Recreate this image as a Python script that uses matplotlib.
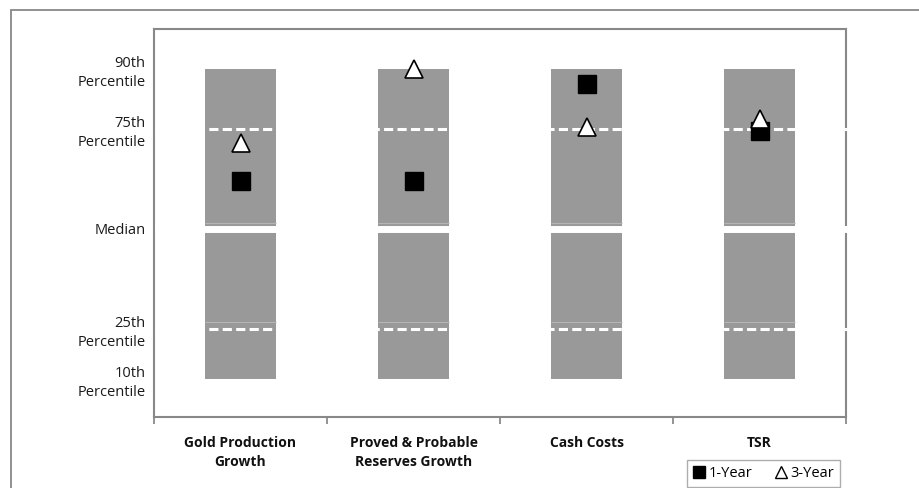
import matplotlib
matplotlib.use("Agg")
import matplotlib.pyplot as plt
from matplotlib.lines import Line2D
from matplotlib.patches import Rectangle

plt.rcParams['font.family'] = ['Open Sans', 'DejaVu Sans']

categories = ["Gold Production\nGrowth", "Proved & Probable\nReserves Growth", "Cash Costs", "TSR"]
one_year = [61.9, 62.1, 86.25, 74.5]
three_year = [71.4, 90.1, 75.4, 77.4]
tick_values = [12.5, 25, 50, 75, 90]
tick_labels = ["10th\nPercentile", "25th\nPercentile", "Median", "75th\nPercentile", "90th\nPercentile"]
band_low, band_high = 12.5, 90

fig = plt.figure(figsize=(9.19, 4.88), dpi=100)
ax = fig.add_axes([154/919, 71/488, 692/919, 388/488])

n = len(categories)
xs = [i + 0.5 for i in range(n)]
ax.bar(xs, [band_high - band_low]*n, bottom=band_low, width=0.405, color='#999999', zorder=1)

# segment edges (light lines)
for yv in [51.5, 26.75]:
    ax.hlines([yv]*n, [x - 0.2025 for x in xs], [x + 0.2025 for x in xs], color='#b5b5b5', lw=0.8, zorder=1.5)

# median white solid, quartiles white dashed
ax.plot([0.005, n + 0.02], [50, 50], color='white', lw=5, zorder=3, clip_on=False, solid_capstyle='butt')
for yv in [25, 75]:
    ax.plot([0.005, n + 0.02], [yv, yv], color='white', lw=2.2, zorder=3, clip_on=False,
            dashes=(3, 1.4), dash_capstyle='butt')

ax.plot(xs, one_year, linestyle='none', marker='s', ms=13, mfc='black', mec='black', zorder=4)
ax.plot(xs, three_year, linestyle='none', marker='^', ms=12.5, mfc='white', mec='black', mew=1.2, zorder=5)

ax.set_xlim(0, n)
ax.set_ylim(3, 100)
ax.set_yticks(tick_values)
ax.set_yticklabels(tick_labels, fontsize=10.5, color='#1a1a1a', multialignment='right', linespacing=1.4)
ax.tick_params(axis='y', length=0, pad=6)

ax.set_xticks(range(n + 1))
ax.set_xticklabels([''] * (n + 1))
ax.set_xticks(xs, minor=True)
ax.set_xticklabels(categories, minor=True, fontsize=10, fontweight='bold', color='#111111', linespacing=1.45)
ax.tick_params(axis='x', which='major', length=5, color='#808080', width=1.2, direction='out')
ax.tick_params(axis='x', which='minor', length=0, pad=14)

for s in ax.spines.values():
    s.set_color('#888888')
    s.set_linewidth(1.5)

handles = [Line2D([], [], linestyle='none', marker='s', ms=9, mfc='black', mec='black'),
           Line2D([], [], linestyle='none', marker='^', ms=9, mfc='white', mec='black', mew=1.0)]
leg = fig.legend(handles, ['1-Year', '3-Year'], loc='lower left', bbox_to_anchor=(687/919, 1/488),
                 ncol=2, frameon=True, fontsize=10.5, handlelength=0.9, handletextpad=0.2,
                 columnspacing=1.5, borderpad=0.4, fancybox=False, borderaxespad=0)
leg.get_frame().set_edgecolor('#999999')
leg.get_frame().set_linewidth(1.0)

fig.add_artist(Rectangle((10.5/919, -0.01), 0.99, (477.5/488) + 0.01, transform=fig.transFigure,
                         fill=False, edgecolor='#888888', lw=1.3))

fig.savefig('out.png', dpi=100)
